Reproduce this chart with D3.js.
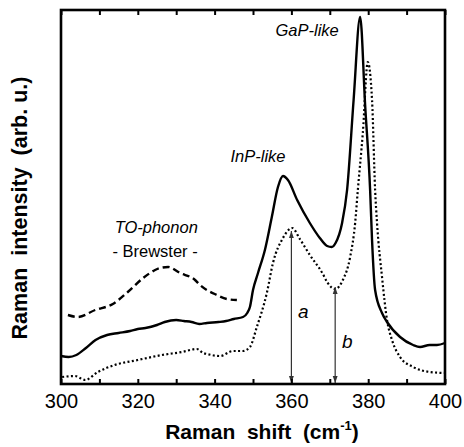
<!DOCTYPE html>
<meta charset="utf-8">
<script src="https://d3js.org/d3.v7.min.js"></script>
<style>
  body { margin: 0; background: #fff; }
  text { font-family: "Liberation Sans", Arial, sans-serif; fill: #000; }
</style>
<div id="my_dataviz"></div>

<script>
    // Raman shift (cm-1) and intensity (arb. u.)
    var solidX = [300, 302, 304, 306.5, 309, 312, 315, 318, 320, 322, 325, 327, 330, 332, 334, 336, 338, 341, 343, 345,
                  347.4, 348.5, 349.2, 350, 351.3, 353.1, 354.9, 356.5, 357.8, 359.1, 361.5, 364.8, 367.4, 369.3, 370.5,
                  371.5, 373.2, 374.5, 376.2, 377.9, 379.2, 380.5, 381, 381.8, 383.6, 384.9, 388.3, 391.7, 393.5, 396, 397.9, 400];
    var solidY = [28, 27, 29, 36, 44, 49, 51, 53, 55, 56, 59, 62, 64, 63, 62, 60, 61, 62, 63, 65,
                  67, 71, 77, 94, 111, 134, 167, 197, 208, 204, 184, 161, 146, 138, 137,
                  141, 161, 194, 284, 367, 279, 194, 144, 94, 71, 62, 47, 39, 37, 39, 39, 41];

    var dottedX = [300.3, 303.6, 305.5, 306.3, 309.6, 314, 320, 326.3, 331.5, 335.4, 337, 338, 341.4, 344.8, 347.4, 349.2,
                   351, 353.6, 355.2, 357.8, 360.2, 362.2, 364.8, 368.2, 369.3, 371.4, 373.4, 375.3, 376.6, 377.3, 378.6,
                   379.9, 381, 381.8, 382.3, 383.6, 384.9, 386.2, 388.3, 391.7, 396.1, 400];
    var dottedY = [7, 8, 5, 4, 12, 19, 24, 29, 32, 35, 31, 30, 28, 33, 33, 37,
                   57, 91, 121, 146, 156, 145, 129, 110, 102, 95, 104, 127, 161, 194, 251,
                   322, 284, 194, 161, 107, 64, 44, 27, 17, 12, 11];

    var dashedX = [301.8, 304.4, 308.9, 313.5, 317.4, 321.4, 324.5, 325.8, 327.9, 331, 334.9, 336.2, 340.6, 343.2, 345.8];
    var dashedY = [69, 67, 74, 80, 92, 106, 114, 116, 117, 111, 104, 99, 89, 85, 84];

    // x ticks every 10, labels every 20
    var xTicks = [300, 310, 320, 330, 340, 350, 360, 370, 380, 390, 400];

    // heights a and b (double arrows)
    var arrowLabels = ["a", "b"];
    var arrowX = [360, 371.4];
    var arrowTop = [153, 97];

    // text annotations (in data units)
    var noteText = ["GaP-like", "InP-like", "TO-phonon", "- Brewster -"];
    var noteX = [364.1, 351.3, 324.8, 324.5];
    var noteY = [348, 222, 151, 127];
    var noteItalic = [true, true, true, false];

    var margin = {top: 10, right: 19, bottom: 63, left: 61},
        width = 464 - margin.left - margin.right,
        height = 447 - margin.top - margin.bottom;

    var svg = d3.select("#my_dataviz")
      .append("svg")
        .attr("width", 464)
        .attr("height", 447)
      .append("g")
        .attr("transform", "translate(" + margin.left + "," + margin.top + ")");

    var x = d3.scaleLinear().domain([300, 400]).range([0, width]);
    var y = d3.scaleLinear().domain([0, 374]).range([height, 0]);

    var line = d3.line()
        .x(d => x(d[0]))
        .y(d => y(d[1]))
        .curve(d3.curveMonotoneX);

    // arrowhead
    svg.append("defs").append("marker")
        .attr("id", "head")
        .attr("viewBox", "0 0 10 10")
        .attr("refX", 10).attr("refY", 5)
        .attr("markerWidth", 7).attr("markerHeight", 7)
        .attr("markerUnits", "userSpaceOnUse")
        .attr("orient", "auto-start-reverse")
      .append("path")
        .attr("d", "M0,1.5L10,5L0,8.5Z")
        .attr("fill", "#333");

    // curves
    svg.append("path")
        .datum(d3.zip(dashedX, dashedY))
        .attr("d", line)
        .attr("fill", "none")
        .attr("stroke", "#000")
        .attr("stroke-width", 2.4)
        .attr("stroke-dasharray", "7,4");

    svg.append("path")
        .datum(d3.zip(dottedX, dottedY))
        .attr("d", line)
        .attr("fill", "none")
        .attr("stroke", "#000")
        .attr("stroke-width", 2.2)
        .attr("stroke-dasharray", "2,2.4");

    svg.append("path")
        .datum(d3.zip(solidX, solidY))
        .attr("d", line)
        .attr("fill", "none")
        .attr("stroke", "#000")
        .attr("stroke-width", 2.4)
        .attr("stroke-linejoin", "round");

    // arrows a, b
    svg.selectAll(".arr")
        .data(d3.range(arrowX.length))
        .enter().append("line")
        .attr("class", "arr")
        .attr("x1", i => x(arrowX[i])).attr("x2", i => x(arrowX[i]))
        .attr("y1", y(0) - 1).attr("y2", i => y(arrowTop[i]))
        .attr("stroke", "#333")
        .attr("stroke-width", 1.2)
        .attr("marker-start", "url(#head)")
        .attr("marker-end", "url(#head)");

    svg.selectAll(".arrlab")
        .data(d3.range(arrowLabels.length))
        .enter().append("text")
        .attr("x", i => x(arrowX[i]) + 12)
        .attr("y", i => y(arrowTop[i] * (i === 0 ? 0.43 : 0.37)))
        .attr("text-anchor", "middle")
        .attr("font-size", "19px")
        .attr("font-style", "italic")
        .text(i => arrowLabels[i]);

    // notes
    svg.selectAll(".note")
        .data(d3.range(noteText.length))
        .enter().append("text")
        .attr("x", i => x(noteX[i]))
        .attr("y", i => y(noteY[i]))
        .attr("text-anchor", "middle")
        .attr("font-size", "16.5px")
        .attr("font-style", i => noteItalic[i] ? "italic" : "normal")
        .text(i => noteText[i]);

    // axes with inward ticks
    var xBottom = svg.append("g")
        .attr("transform", "translate(0," + height + ")")
        .call(d3.axisBottom(x).tickValues(xTicks).tickSize(-5).tickPadding(10)
            .tickFormat(d => d % 20 === 0 ? d : ""));
    xBottom.selectAll("text").attr("font-size", "20px").attr("font-family", null);

    var xTop = svg.append("g")
        .call(d3.axisTop(x).tickValues(xTicks).tickSize(-5).tickFormat(""));

    [xBottom, xTop].forEach(g => {
        g.select(".domain").remove();
        g.selectAll("line").attr("stroke-width", 2);
    });

    // frame
    svg.append("rect")
        .attr("width", width)
        .attr("height", height)
        .attr("fill", "none")
        .attr("stroke", "#000")
        .attr("stroke-width", 2.6);

    // axis titles
    var xt = svg.append("text")
        .attr("x", width / 2 + 9)
        .attr("y", height + 55)
        .attr("text-anchor", "middle")
        .attr("font-size", "21px")
        .attr("font-weight", "bold")
        .attr("xml:space", "preserve");
    xt.append("tspan").text("Raman  shift  (cm");
    xt.append("tspan").attr("font-size", "13px").attr("dy", "-9").text("-1");
    xt.append("tspan").attr("dy", "9").text(")");

    svg.append("text")
        .attr("transform", "translate(" + (27 - margin.left) + "," + (208 - margin.top) + ") rotate(-90)")
        .attr("text-anchor", "middle")
        .attr("font-size", "21.5px")
        .attr("font-weight", "bold")
        .attr("xml:space", "preserve")
        .text("Raman  intensity  (arb. u.)");
</script>
